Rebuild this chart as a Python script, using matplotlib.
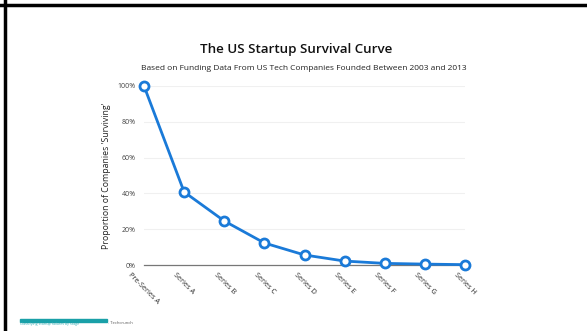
import matplotlib.pyplot as plt
from matplotlib.lines import Line2D
from matplotlib.patches import Rectangle

stages = ["Pre-Series A", "Series A", "Series B", "Series C", "Series D",
          "Series E", "Series F", "Series G", "Series H"]
surviving = [100, 40.8, 24.6, 12.3, 5.6, 2.2, 0.9, 0.5, 0.2]
y_ticks = [0, 20, 40, 60, 80, 100]
y_labels = ["0%", "20%", "40%", "60%", "80%", "100%"]

plt.rcParams['font.family'] = ['Open Sans', 'DejaVu Sans']

fig = plt.figure(figsize=(5.87, 3.31), dpi=100)
ax = fig.add_axes([144 / 587, 1 - 265 / 331, 321 / 587, 179 / 331])

blue = "#1a7ad8"
ax.plot(range(len(stages)), surviving, color=blue, lw=2.0, marker="o",
        markersize=6.5, markerfacecolor="white", markeredgecolor=blue,
        markeredgewidth=2.0, clip_on=False, zorder=3)

ax.set_xlim(0, len(stages) - 1)
ax.set_ylim(0, 100)
ax.set_yticks(y_ticks)
ax.set_yticklabels(y_labels, fontsize=5, color="#444444")
ax.set_xticks(range(len(stages)))
ax.set_xticklabels(stages, fontsize=5.2, color="#2a2a2a", rotation=-45,
                   ha="center", va="top")
ax.tick_params(length=0)
ax.tick_params(axis="y", pad=6)
ax.tick_params(axis="x", pad=5)
for t in y_ticks[1:]:
    ax.axhline(t, color="#f0f0f0", lw=0.8, zorder=0)
for s in ["top", "right", "left"]:
    ax.spines[s].set_visible(False)
ax.spines["bottom"].set_color("#777777")
ax.spines["bottom"].set_linewidth(0.9)
ax.set_ylabel("Proportion of Companies 'Surviving'", fontsize=6.3, color="#222222",
              labelpad=5)

fig.text(296 / 587, 1 - 50 / 331, "The US Startup Survival Curve", ha="center",
         va="center", fontsize=9.6, fontweight="semibold", color="#111111")
fig.text(304 / 587, 1 - 68 / 331,
         "Based on Funding Data From US Tech Companies Founded Between 2003 and 2013",
         ha="center", va="center", fontsize=6.05, color="#222222")

# source note
fig.patches.append(Rectangle((20 / 587, 1 - 322 / 331), 87 / 587, 3 / 331,
                             transform=fig.transFigure, color="#1aa0a8"))
fig.text(20 / 587, 1 - 323.5 / 331, "Classifying startup failures by stage",
         ha="left", va="center", fontsize=2.6, color="#40b0b8")
fig.text(108 / 587, 1 - 323.5 / 331, ". Techcrunch", ha="left", va="center",
         fontsize=3, color="#555555")

# slide frame
fig.add_artist(Line2D([0, 1], [1 - 4.5 / 331] * 2, color="black", lw=2.5,
                      transform=fig.transFigure))
fig.add_artist(Line2D([4.5 / 587] * 2, [0, 1], color="black", lw=2.5,
                      transform=fig.transFigure))

fig.savefig("out.png", dpi=100)
